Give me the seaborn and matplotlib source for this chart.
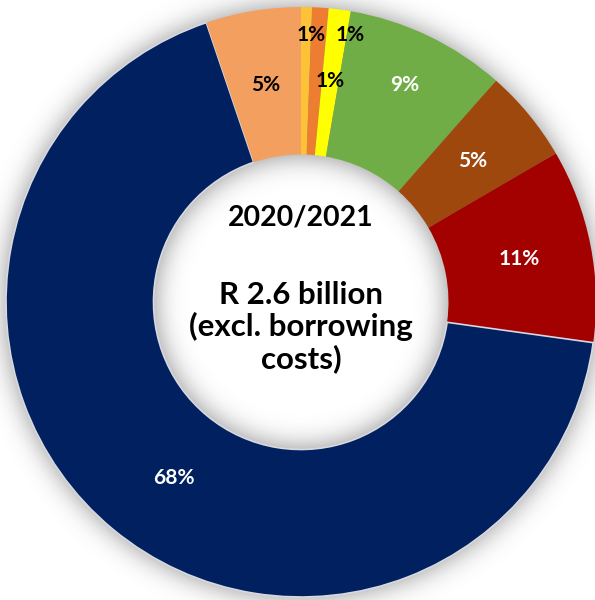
import numpy as np
import matplotlib
matplotlib.use("Agg")
import matplotlib.pyplot as plt
import seaborn as sns

# Budget share by item (percent of total), clockwise from 12 o'clock
items = ["Item A", "Item B", "Item C", "Item D", "Item E", "Item F", "Item G", "Item H"]
shares = [0.6, 0.9, 1.2, 8.8, 5.1, 10.6, 67.6, 5.2]
colors = ["#FDC236", "#ED7D31", "#FFFF00", "#70AD47", "#9E480E", "#A30000", "#00205F", "#F29F60"]
label_colors = ["black", "black", "black", "white", "white", "white", "white", "black"]

center_title = "2020/2021"
center_body = "R 2.6 billion\n(excl. borrowing\ncosts)"

sns.set_theme(style="white")
plt.rcParams["font.family"] = ["Lato", "DejaVu Sans"]

W, H, DPI = 5.95, 6.0, 100
fig = plt.figure(figsize=(W, H), dpi=DPI)
ax = fig.add_axes([0, 0, 1, 1])

R_PX = 295.0
cx_px, cy_px = 301.0, 302.0
xmin = -cx_px / R_PX
xmax = xmin + W * DPI / R_PX
ymax = cy_px / R_PX
ymin = ymax - H * DPI / R_PX

inner = 0.5

# soft shadow around the ring
gx = np.linspace(xmin, xmax, 600)
gy = np.linspace(ymin, ymax, 600)
XX, YY = np.meshgrid(gx, gy)
rr = np.hypot(XX, YY)
mask = ((rr <= 1.0) & (rr >= inner)).astype(float)
sig = 0.045 / ((xmax - xmin) / 600)
k = np.arange(-int(4 * sig), int(4 * sig) + 1)
kern = np.exp(-0.5 * (k / sig) ** 2)
kern /= kern.sum()
blur = np.apply_along_axis(lambda v: np.convolve(v, kern, mode="same"), 1, mask)
blur = np.apply_along_axis(lambda v: np.convolve(v, kern, mode="same"), 0, blur)
shadow = np.zeros((600, 600, 4))
shadow[..., :3] = 0.35
shadow[..., 3] = 0.7 * blur
ax.imshow(shadow, extent=[xmin, xmax, ymin, ymax], origin="lower", zorder=0,
          interpolation="bilinear", aspect="auto")

wedges, _ = ax.pie(shares, colors=colors, startangle=90, counterclock=False,
                   radius=1.0, wedgeprops=dict(width=1 - inner, linewidth=0))
for w in wedges:
    w.set_zorder(2)
wedges[6].set_edgecolor("#d8d8e0")
wedges[6].set_linewidth(1.2)

# percent labels at wedge mid-angles; a few are nudged to clearer spots
label_r = [0.755, 0.755, 0.755, 0.815, 0.755, 0.755, 0.745, 0.745]
overrides = {0: (0.035, 0.905), 1: (0.165, 0.905), 6: (-0.43, -0.595)}
cum = 0.0
total = sum(shares)
for i, s in enumerate(shares):
    mid = 90 - 360 * (cum + s / 2) / total
    cum += s
    x = label_r[i] * np.cos(np.radians(mid))
    y = label_r[i] * np.sin(np.radians(mid))
    if i in overrides:
        x, y = overrides[i]
    ax.text(x, y, f"{round(s):d}%", ha="center", va="center", fontsize=15,
            fontweight="bold", color=label_colors[i], zorder=5)

ax.text(0.0, 0.285, center_title, ha="center", va="center", fontsize=20.5,
        fontweight="bold", color="black", zorder=5)
ax.text(0.0, -0.085, center_body, ha="center", va="center", fontsize=22.5,
        fontweight="bold", color="black", linespacing=1.12, zorder=5)

ax.set_xlim(xmin, xmax)
ax.set_ylim(ymin, ymax)
ax.set_aspect("auto")
ax.axis("off")
fig.savefig("out.png", dpi=DPI, facecolor="white")
